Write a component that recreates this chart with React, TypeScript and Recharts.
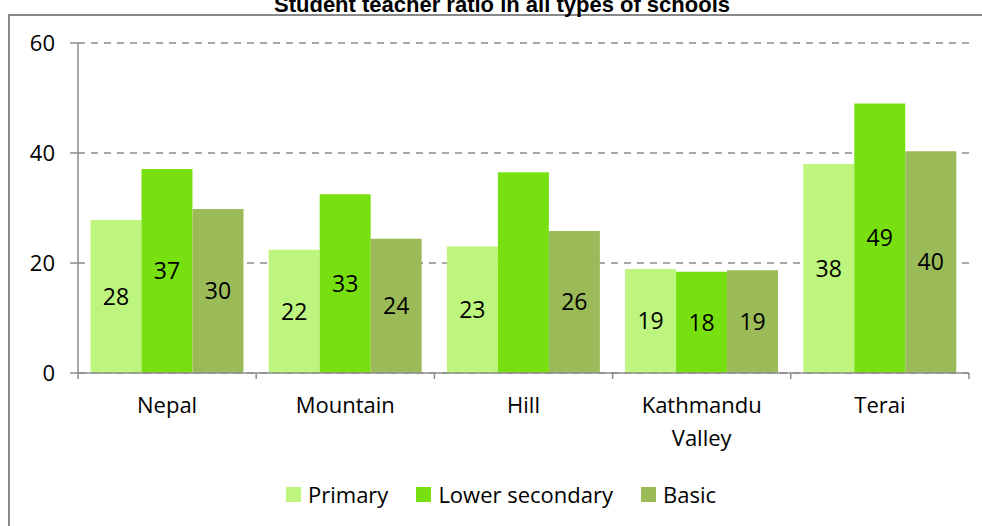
import React from "react";
import {
  BarChart,
  Bar,
  XAxis,
  YAxis,
  CartesianGrid,
  Legend,
  LabelList,
} from "recharts";

const categories = ["Nepal", "Mountain", "Hill", "Kathmandu Valley", "Terai"];
const primary = [27.8, 22.4, 23.0, 18.9, 38.0];
const lowerSecondary = [37.1, 32.5, 36.5, 18.4, 49.0];
const basic = [29.8, 24.4, 25.8, 18.7, 40.3];
// data labels as shown in the chart (Hill / lower secondary has none)
const primaryLabels = [28, 22, 23, 19, 38];
const lowerSecondaryLabels = [37, 33, null, 18, 49];
const basicLabels = [30, 24, 26, 19, 40];
const yTicks = [0, 20, 40, 60];

const series = [
  { key: "primary", label: "Primary", color: "#BEF57E" },
  { key: "lowerSecondary", label: "Lower secondary", color: "#78E010" },
  { key: "basic", label: "Basic", color: "#9BBB59" },
];

const chartData = categories.map((name, i) => ({
  name,
  primary: primary[i],
  lowerSecondary: lowerSecondary[i],
  basic: basic[i],
  primaryLabel: primaryLabels[i],
  lowerSecondaryLabel: lowerSecondaryLabels[i],
  basicLabel: basicLabels[i],
}));

const WIDTH = 982;
const HEIGHT = 526;
const MARGIN = { top: 43, right: 13, left: 8, bottom: 43 };
const Y_AXIS_WIDTH = 70;
const FONT = "'Open Sans', 'Noto Sans', sans-serif";
const AXIS_COLOR = "#8c8c8c";

const plotWidth = WIDTH - MARGIN.left - MARGIN.right - Y_AXIS_WIDTH;
const band = plotWidth / categories.length;

function CategoryTick(props: any) {
  const { x, y, payload, index, visibleTicksCount } = props;
  const axisY = y - 24;
  const last = index === visibleTicksCount - 1;
  // long names wrap onto two lines like the original
  const lines: string[] =
    payload.value.length > 12 ? payload.value.split(" ") : [payload.value];
  return (
    <g>
      <line
        x1={x - band / 2}
        x2={x - band / 2}
        y1={axisY}
        y2={axisY + 6}
        stroke={AXIS_COLOR}
        strokeWidth={1.5}
      />
      {last && (
        <line
          x1={x + band / 2}
          x2={x + band / 2}
          y1={axisY}
          y2={axisY + 6}
          stroke={AXIS_COLOR}
          strokeWidth={1.5}
        />
      )}
      <text
        x={x}
        y={y}
        textAnchor="middle"
        fill="#000"
        style={{ fontSize: 22, fontFamily: FONT }}
      >
        {lines.map((line, i) => (
          <tspan key={i} x={x} dy={i === 0 ? "0.71em" : 33}>
            {line}
          </tspan>
        ))}
      </text>
    </g>
  );
}

function LegendContent() {
  return (
    <div
      style={{
        display: "flex",
        alignItems: "center",
        height: 30,
        fontFamily: FONT,
        fontSize: 22,
        color: "#000",
      }}
    >
      {series.map((s) => (
        <div
          key={s.key}
          style={{ display: "flex", alignItems: "center", marginRight: 28 }}
        >
          <span
            style={{
              display: "inline-block",
              width: 15,
              height: 15,
              background: s.color,
              marginRight: 7,
            }}
          />
          <span>{s.label}</span>
        </div>
      ))}
    </div>
  );
}

export default function App() {
  return (
    <div
      style={{
        position: "absolute",
        left: 0,
        top: 0,
        width: WIDTH,
        height: HEIGHT,
        overflow: "hidden",
        background: "#fff",
      }}
    >
      <div
        style={{
          position: "absolute",
          left: 8,
          top: 14,
          width: WIDTH,
          height: HEIGHT,
          borderTop: "2px solid #898989",
          borderLeft: "2px solid #898989",
        }}
      />
      <div
        style={{
          position: "absolute",
          left: 0,
          width: 1004,
          top: -7,
          textAlign: "center",
          fontFamily: "'Liberation Sans', Arial, sans-serif",
          fontWeight: "bold",
          fontSize: 22,
          lineHeight: "24px",
          color: "#000",
        }}
      >
        Student teacher ratio in all types of schools
      </div>
      <div style={{ position: "absolute", left: 0, top: 0 }}>
        <BarChart
          width={WIDTH}
          height={HEIGHT}
          data={chartData}
          margin={MARGIN}
          barCategoryGap="7%"
          barGap={0}
        >
          <CartesianGrid
            vertical={false}
            stroke="#8a8a8a"
            strokeWidth={1.5}
            strokeDasharray="7 6"
          />
          <XAxis
            dataKey="name"
            height={80}
            tickLine={false}
            tickSize={6}
            tickMargin={18}
            axisLine={{ stroke: AXIS_COLOR, strokeWidth: 1.5 }}
            tick={<CategoryTick />}
            interval={0}
          />
          <YAxis
            width={Y_AXIS_WIDTH}
            domain={[0, 60]}
            ticks={yTicks}
            tickSize={8}
            tickMargin={15}
            axisLine={{ stroke: AXIS_COLOR, strokeWidth: 1.5 }}
            tickLine={{ stroke: AXIS_COLOR, strokeWidth: 1.5 }}
            tick={{ fill: "#000", fontSize: 22, fontFamily: FONT }}
          />
          <Legend
            verticalAlign="bottom"
            content={<LegendContent />}
            wrapperStyle={{ left: 286, top: 479, width: 600, bottom: "auto" }}
          />
          {series.map((s) => (
            <Bar
              key={s.key}
              dataKey={s.key}
              name={s.label}
              fill={s.color}
              isAnimationActive={false}
            >
              <LabelList
                dataKey={s.key + "Label"}
                position="center"
                fill="#000"
                style={{ fontSize: 23, fontFamily: FONT }}
              />
            </Bar>
          ))}
        </BarChart>
      </div>
    </div>
  );
}
